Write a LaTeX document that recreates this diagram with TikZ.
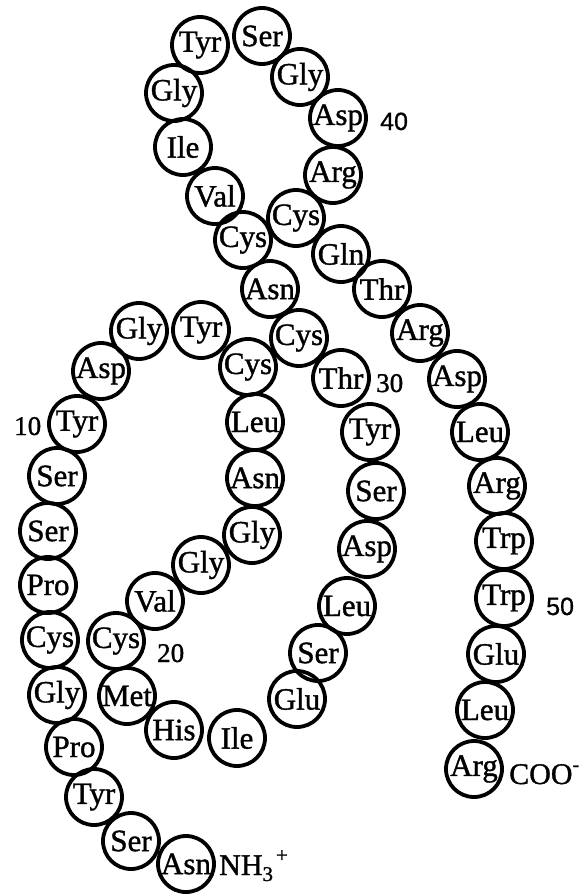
\documentclass[tikz,border=0pt]{standalone}
\usepackage{fontspec}
\setmainfont{Liberation Serif}
\newfontfamily\labelfont{Liberation Serif}[FakeBold=1.2]
\newfontfamily\numsans{Liberation Sans}[FakeBold=0.8]
\begin{document}
\begin{tikzpicture}[x=1pt,y=-1pt,
  res/.style={draw, circle, line width=3.8pt, minimum size=56pt, inner sep=-6pt,
    font=\labelfont\fontsize{31}{33}\selectfont},
  num/.style={anchor=base west, inner sep=0pt, font=\labelfont\fontsize{27}{29}\selectfont},
  numsf/.style={num, font=\numsans\fontsize{25}{27}\selectfont},
  term/.style={anchor=base west, inner sep=0pt, font=\labelfont\fontsize{30}{32}\selectfont}]
\useasboundingbox (0,0) rectangle (583,894);
% residues 1--53, N-terminus at the bottom left
\node[res] (r1)  at (186,864) {Asn};
\node[res] (r2)  at (131,841) {Ser};
\node[res] (r3)  at (94,797)  {Tyr};
\node[res] (r4)  at (74,747)  {Pro};
\node[res] (r5)  at (57,695)  {Gly};
\node[res] (r6)  at (50,640)  {Cys};
\node[res] (r7)  at (48,585)  {Pro};
\node[res] (r8)  at (48,531)  {Ser};
\node[res] (r9)  at (57,476)  {Ser};
\node[res] (r10) at (77,424)  {Tyr};
\node[res] (r11) at (101,371) {Asp};
\node[res] (r12) at (139,331) {Gly};
\node[res] (r13) at (201,330) {Tyr};
\node[res] (r14) at (248,367) {Cys};
\node[res] (r15) at (255,422) {Leu};
\node[res] (r16) at (255,478) {Asn};
\node[res] (r17) at (252,535) {Gly};
\node[res] (r18) at (201,565) {Gly};
\node[res] (r19) at (155,601) {Val};
\node[res] (r20) at (116,641) {Cys};
\node[res] (r21) at (127,696) {Met};
\node[res] (r22) at (174,730) {His};
\node[res] (r23) at (237,738) {Ile};
\node[res] (r24) at (297,699) {Glu};
\node[res] (r25) at (318,653) {Ser};
\node[res] (r26) at (347,606) {Leu};
\node[res] (r27) at (367,549) {Asp};
\node[res] (r28) at (376,491) {Ser};
\node[res] (r29) at (370,432) {Tyr};
\node[res] (r30) at (341,378) {Thr};
\node[res] (r31) at (299,338) {Cys};
\node[res] (r32) at (270,289) {Asn};
\node[res] (r33) at (243,240) {Cys};
\node[res] (r34) at (215,196) {Val};
\node[res] (r35) at (183,147) {Ile};
\node[res] (r36) at (174,93)  {Gly};
\node[res] (r37) at (200,45)  {Tyr};
\node[res] (r38) at (262,36)  {Ser};
\node[res] (r39) at (300,77)  {Gly};
\node[res] (r40) at (338,118) {Asp};
\node[res] (r41) at (333,175) {Arg};
\node[res] (r42) at (296,218) {Cys};
\node[res] (r43) at (341,254) {Gln};
\node[res] (r44) at (382,289) {Thr};
\node[res] (r45) at (420,333) {Arg};
\node[res] (r46) at (457,379) {Asp};
\node[res] (r47) at (480,432) {Leu};
\node[res] (r48) at (497,486) {Arg};
\node[res] (r49) at (504,541) {Trp};
\node[res] (r50) at (504,598) {Trp};
\node[res] (r51) at (496,654) {Glu};
\node[res] (r52) at (485,710) {Leu};
\node[res] (r53) at (474,769) {Arg};
% sequence numbers
\node[num]   (n10) at (14,435)  {10};
\node[num]   (n20) at (157,662) {20};
\node[num]   (n30) at (376,392) {30};
\node[numsf] (n40) at (380,130) {40};
\node[numsf] (n50) at (546,615) {50};
% termini
\node[term] (nterm) at (219,875)
  {NH{\fontsize{21}{21}\selectfont\raisebox{-6pt}{3}\hspace{3pt}\raisebox{13pt}{+}}};
\node[term] (cterm) at (509,784)
  {COO{\fontsize{20}{20}\selectfont\raisebox{13pt}{-}}};
\end{tikzpicture}
\end{document}
